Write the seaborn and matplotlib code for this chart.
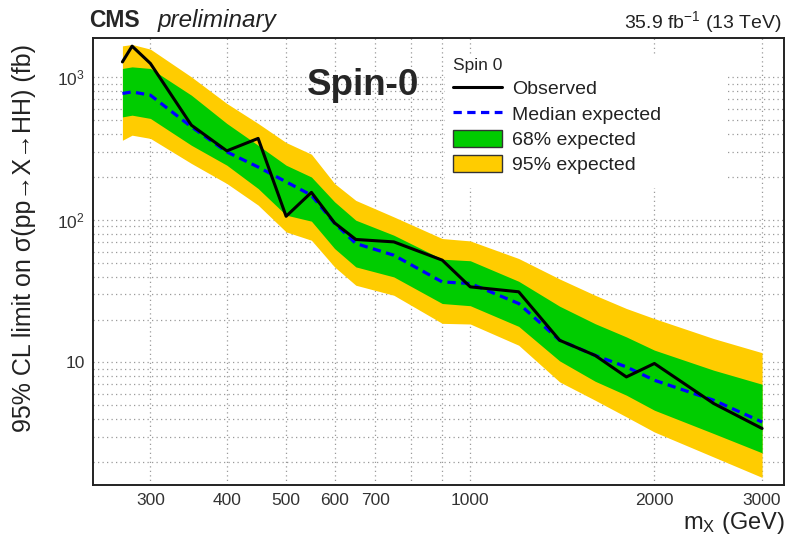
import numpy as np
import pandas as pd
import matplotlib
matplotlib.use("Agg")
import matplotlib.pyplot as plt
import seaborn as sns
from matplotlib.lines import Line2D
from matplotlib.patches import Patch, Rectangle
from matplotlib.ticker import FixedLocator, FixedFormatter, NullFormatter

# Resonance masses (GeV)
mass = [270, 280, 300, 350, 400, 450, 500, 550, 600, 650, 750, 900,
        1000, 1200, 1400, 1600, 1800, 2000, 2500, 3000]

# Observed and expected 95% CL upper limits (fb)
observed = [1284, 1656, 1252, 462, 305, 373, 106, 156, 95.3, 72.9, 70.1, 52.2,
            33.9, 31.3, 14.3, 11.2, 7.91, 9.83, 5.15, 3.44]
expected = [771, 791, 750, 450, 300, 235, 185, 149, 94.8, 68.3, 56.5, 36.7,
            35.8, 25.9, 14.3, 11.2, 9.3, 7.5, 5.43, 3.82]

# 68% and 95% expected bands
exp_p1 = [1155, 1185, 1155, 750, 475, 334, 242, 200, 134, 99.5, 78.1, 53.0,
          51.7, 37.1, 24.8, 18.7, 15.1, 12.2, 8.82, 7.03]
exp_m1 = [528, 543, 515, 334, 242, 166, 108, 98, 63, 46.8, 39.8, 25.9,
          25.0, 17.9, 10.25, 7.38, 5.89, 4.62, 3.17, 2.32]
exp_p2 = [1664, 1702, 1578, 1008, 656, 475, 349, 289, 180, 137, 105, 74,
          71.2, 53.6, 38.5, 29.6, 23.9, 20.3, 14.7, 11.7]
exp_m2 = [362, 393, 373, 249, 180, 127, 82.4, 72, 46.8, 34.8, 29.6, 18.8,
          18.6, 13.2, 7.3, 5.43, 4.15, 3.25, 2.17, 1.56]

x_ticks = [300, 400, 500, 600, 700, 1000, 2000, 3000]
x_minor = [800, 900]
y_ticks = [10, 100, 1000]
y_ticklabels = ["10", "$10^{2}$", "$10^{3}$"]

df = pd.DataFrame({"mass": mass, "observed": observed, "expected": expected,
                   "p1": exp_p1, "m1": exp_m1, "p2": exp_p2, "m2": exp_m2})

sns.set_style("white")
plt.rcParams["font.family"] = ["Liberation Sans", "DejaVu Sans"]
plt.rcParams["mathtext.fontset"] = "custom"
plt.rcParams["mathtext.rm"] = "Liberation Sans"
plt.rcParams["mathtext.it"] = "Liberation Sans:italic"
plt.rcParams["mathtext.bf"] = "Liberation Sans:bold"

YELLOW = "#FFCC00"
GREEN = "#00CC00"
BLUE = "#0000FF"

fig = plt.figure(figsize=(7.87, 5.41), dpi=100)
ax = fig.add_axes([0.1186, 0.1035, 0.9962 - 0.1186, 0.9292 - 0.1035])

ax.set_xscale("log")
ax.set_yscale("log")

ax.fill_between(df["mass"], df["m2"], df["p2"], color=YELLOW, lw=0, zorder=2)
ax.fill_between(df["mass"], df["m1"], df["p1"], color=GREEN, lw=0, zorder=3)
sns.lineplot(data=df, x="mass", y="expected", ax=ax, color=BLUE, lw=2.3,
             dashes=False, zorder=4, estimator=None)
ax.lines[-1].set_dashes((2.6, 1.7))
sns.lineplot(data=df, x="mass", y="observed", ax=ax, color="black", lw=2.2,
             zorder=5, estimator=None)

ax.set_xlim(242, 3258)
ax.set_ylim(1.38, 1880)

# axis ticks
ax.xaxis.set_major_locator(FixedLocator(x_ticks))
ax.xaxis.set_major_formatter(FixedFormatter([str(t) for t in x_ticks]))
ax.xaxis.set_minor_locator(FixedLocator(x_minor))
ax.xaxis.set_minor_formatter(NullFormatter())
ax.yaxis.set_major_locator(FixedLocator(y_ticks))
ax.yaxis.set_major_formatter(FixedFormatter(y_ticklabels))
y_minor = [v * d for d in (1, 10, 100) for v in range(2, 10) if v * d < 1880]
ax.yaxis.set_minor_locator(FixedLocator(y_minor))
ax.yaxis.set_minor_formatter(NullFormatter())

ax.tick_params(axis="both", which="both", direction="in", colors="black",
               labelsize=12.5, width=1.0)
ax.tick_params(axis="y", which="major", length=11, pad=6)
ax.tick_params(axis="y", which="minor", length=6)
ax.tick_params(axis="x", which="major", length=7, pad=6)
ax.tick_params(axis="x", which="minor", length=7)
for lab in ax.get_xticklabels() + ax.get_yticklabels():
    lab.set_color("#333333")

ax.grid(True, which="both", axis="both", color="#9a9a9a",
        linestyle=(0, (1, 2.6)), linewidth=0.9)
ax.set_axisbelow(True)
for s in ax.spines.values():
    s.set_linewidth(1.4)
    s.set_color("#222222")

ax.set_xlabel("")
ax.set_ylabel("")
fig.text(0.997, 1 - 529 / 541, r"m$_{\mathrm{X}}$ (GeV)", ha="right",
         va="baseline", fontsize=17, color="#222222")
fig.text(0.030, 0.56, "95% CL limit on σ(pp→X→HH) (fb)", rotation=90,
         ha="center", va="center", fontsize=18, color="#222222")

# header texts
fig.text(89 / 787, 1 - 26.7 / 541, "CMS", fontsize=16.5, fontweight="bold",
         ha="left", va="baseline")
fig.text(158 / 787, 1 - 26.7 / 541, "preliminary", fontsize=17.5,
         style="italic", ha="left", va="baseline", color="#222222")
fig.text(782 / 787, 1 - 28.3 / 541, r"35.9 fb$^{-1}$ (13 TeV)", fontsize=14,
         ha="right", va="baseline", color="#222222")
fig.text(307 / 787, 1 - 95 / 541, "Spin-0", fontsize=26.5, fontweight="bold",
         ha="left", va="baseline")

# legend
ax.add_patch(Rectangle((0.509, 0.665), 0.9146 - 0.509, 0.9626 - 0.665,
                       transform=ax.transAxes, facecolor="white",
                       edgecolor="none", zorder=6))
handles = [
    Line2D([], [], color="black", lw=2.2),
    Line2D([], [], color=BLUE, lw=2.3, dashes=(2.6, 1.7)),
    Patch(facecolor=GREEN, edgecolor="#333333", lw=1.0),
    Patch(facecolor=YELLOW, edgecolor="#333333", lw=1.0),
]
labels = ["Observed", "Median expected", "68% expected", "95% expected"]
leg = ax.legend(handles, labels, title="Spin 0", loc="upper left",
                bbox_to_anchor=(453 / 787, 1 - 58 / 541),
                bbox_transform=fig.transFigure, frameon=False, fontsize=14,
                title_fontsize=12.5, borderpad=0, borderaxespad=0,
                handlelength=2.5, handleheight=0.95, handletextpad=0.55,
                labelspacing=0.32, alignment="left")
leg.set_zorder(7)
for t in leg.get_texts():
    t.set_color("#222222")

fig.savefig("out.png", dpi=100)
